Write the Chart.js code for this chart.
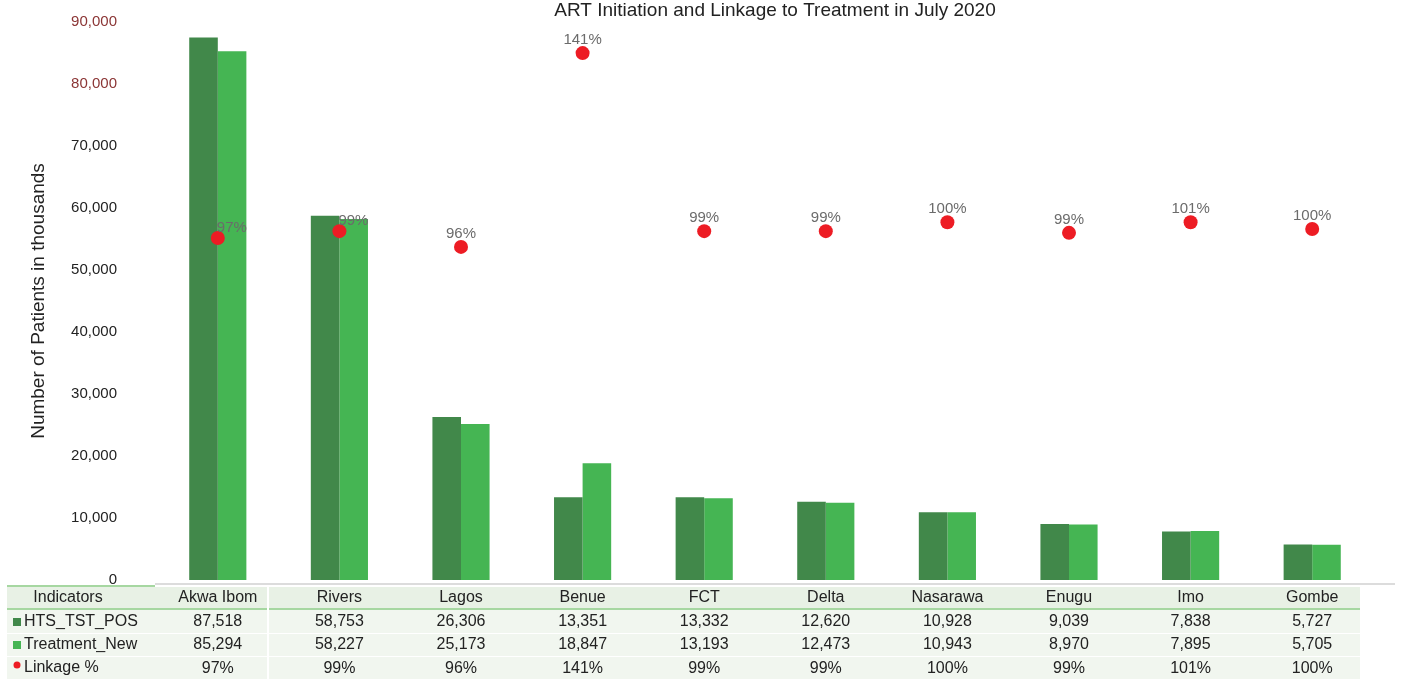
<!DOCTYPE html>
<html>
<head>
<meta charset="utf-8">
<script src="https://cdn.jsdelivr.net/npm/chart.js@4.4.1/dist/chart.umd.min.js"></script>
<style>
  html, body { margin: 0; padding: 0; background: #fff; }
  #wrap { width: 1402px; height: 679px; position: relative; }
</style>
</head>
<body>
<div id="wrap"><canvas id="chart"></canvas></div>
<script>
// Data
const states = ['Akwa Ibom', 'Rivers', 'Lagos', 'Benue', 'FCT', 'Delta', 'Nasarawa', 'Enugu', 'Imo', 'Gombe'];
const htsTstPos = [87518, 58753, 26306, 13351, 13332, 12620, 10928, 9039, 7838, 5727];
const treatmentNew = [85294, 58227, 25173, 18847, 13193, 12473, 10943, 8970, 7895, 5705];
// linkage as plotted and as printed
const linkagePct = [97.8, 99.4, 95.7, 141.2, 99.4, 99.4, 101.5, 99.0, 101.5, 99.9];
const linkageLabels = ['97%', '99%', '96%', '141%', '99%', '99%', '100%', '99%', '101%', '100%'];
const yTicks = [0, 10000, 20000, 30000, 40000, 50000, 60000, 70000, 80000, 90000];

const chartTitle = 'ART Initiation and Linkage to Treatment in July 2020';

// Colors
const colors = {
  dark: '#41884a',
  light: '#45b553',
  dot: '#ed1c24',
  dotLabel: '#6b6b6b',
  text: '#222222',
  topTick: '#8b3535',
  headerBg: '#e8f1e5',
  bodyBg: '#f1f6ef',
  rule: '#a6d7a1',
  axis: '#dcdcdc'
};
const FONT = '"Liberation Sans", Arial, sans-serif';

// label nudges for the first two dots (they sit on the bars)
const dotLabelShift = { 0: [14, -10], 1: [14, -10] };

const fmt = v => v.toLocaleString('en-US');

// Title at the top
const topTitle = {
  id: 'topTitle',
  afterDraw(chart) {
    const ctx = chart.ctx;
    ctx.save();
    ctx.font = '19px ' + FONT;
    ctx.fillStyle = colors.text;
    ctx.textAlign = 'center';
    ctx.textBaseline = 'middle';
    ctx.fillText(chartTitle, 775, 11);
    ctx.restore();
  }
};

// Percent labels above the red dots
const dotLabels = {
  id: 'dotLabels',
  afterDatasetsDraw(chart) {
    const ctx = chart.ctx;
    const meta = chart.getDatasetMeta(0);
    ctx.save();
    ctx.font = '15px ' + FONT;
    ctx.fillStyle = colors.dotLabel;
    ctx.textAlign = 'center';
    ctx.textBaseline = 'middle';
    meta.data.forEach((pt, i) => {
      const [dx, dy] = dotLabelShift[i] || [0, -13];
      ctx.fillText(linkageLabels[i], pt.x + dx, pt.y + dy);
    });
    ctx.restore();
  }
};

// Data table under the plot
const dataTable = {
  id: 'dataTable',
  afterDraw(chart) {
    const ctx = chart.ctx;
    const x = chart.scales.x;
    const left = 7, right = 1360, labelRight = 155;
    ctx.save();

    // axis base line
    ctx.fillStyle = colors.axis;
    ctx.fillRect(labelRight, 583, 1395 - labelRight, 2);

    // backgrounds
    ctx.fillStyle = colors.headerBg;
    ctx.fillRect(left, 587, right - left, 22);
    ctx.fillStyle = colors.bodyBg;
    ctx.fillRect(left, 610, right - left, 69);

    // green rules
    ctx.fillStyle = colors.rule;
    ctx.fillRect(left, 585, labelRight - left, 2);
    ctx.fillRect(left, 608, right - left, 2);

    // white separators
    ctx.fillStyle = '#ffffff';
    ctx.fillRect(left, 633, right - left, 1);
    ctx.fillRect(left, 656, right - left, 1);
    ctx.fillRect(267, 587, 2, 92);

    ctx.font = '16px ' + FONT;
    ctx.fillStyle = colors.text;
    ctx.textBaseline = 'middle';

    // row headers
    ctx.textAlign = 'center';
    ctx.fillText('Indicators', 68, 598);
    ctx.textAlign = 'left';
    ctx.fillText('HTS_TST_POS', 24, 622);
    ctx.fillText('Treatment_New', 24, 645);
    ctx.fillText('Linkage %', 24, 668);

    // legend keys
    ctx.fillStyle = colors.dark;
    ctx.fillRect(13, 618, 8, 8);
    ctx.fillStyle = colors.light;
    ctx.fillRect(13, 641, 8, 8);
    ctx.fillStyle = colors.dot;
    ctx.beginPath();
    ctx.arc(17, 665, 3.5, 0, Math.PI * 2);
    ctx.fill();

    // cells
    ctx.fillStyle = colors.text;
    ctx.textAlign = 'center';
    states.forEach((s, i) => {
      const cx = x.getPixelForValue(i);
      ctx.fillText(s, cx, 598);
      ctx.fillText(fmt(htsTstPos[i]), cx, 622);
      ctx.fillText(fmt(treatmentNew[i]), cx, 645);
      ctx.fillText(linkageLabels[i], cx, 669);
    });
    ctx.restore();
  }
};

const chartCtx = document.getElementById('chart').getContext('2d');

new Chart(chartCtx, {
  type: 'bar',
  data: {
    labels: states,
    datasets: [
      {
        type: 'line',
        label: 'Linkage %',
        data: linkagePct,
        yAxisID: 'y2',
        showLine: false,
        pointRadius: 7,
        pointBackgroundColor: colors.dot,
        pointBorderWidth: 0,
        order: 0
      },
      {
        label: 'HTS_TST_POS',
        data: htsTstPos,
        backgroundColor: colors.dark,
        order: 1
      },
      {
        label: 'Treatment_New',
        data: treatmentNew,
        backgroundColor: colors.light,
        order: 1
      }
    ]
  },
  options: {
    responsive: true,
    maintainAspectRatio: false,
    animation: false,
    categoryPercentage: 0.47,
    barPercentage: 1,
    layout: {
      padding: { left: 0, right: 29, top: 22, bottom: 99 }
    },
    plugins: {
      legend: { display: false },
      tooltip: { enabled: false },
      title: { display: false }
    },
    scales: {
      x: {
        display: false
      },
      y: {
        min: 0,
        max: 90000,
        afterBuildTicks: scale => {
          scale.ticks = yTicks.map(v => ({ value: v }));
        },
        afterFit: scale => {
          scale.width = 157;
        },
        // tick marks are not drawn; tickLength only sets the label gap
        grid: { display: false, drawTicks: true, tickLength: 36 },
        border: { display: false },
        ticks: {
          padding: 4,
          color: c => (c.tick && c.tick.value >= 80000 ? colors.topTick : colors.text),
          font: { family: FONT, size: 15 },
          callback: v => fmt(v)
        },
        title: {
          display: true,
          text: 'Number of Patients in thousands',
          color: colors.text,
          font: { family: FONT, size: 19 },
          padding: { top: 27, bottom: 0 }
        }
      },
      y2: {
        display: false,
        min: 17.5,
        max: 148.5
      }
    }
  },
  plugins: [topTitle, dotLabels, dataTable]
});
</script>
</body>
</html>
